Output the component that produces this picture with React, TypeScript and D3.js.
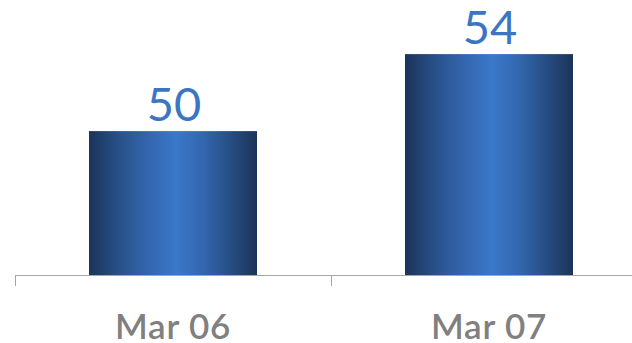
import React from "react";
import * as d3 from "d3";

const categories: string[] = ["Mar 06", "Mar 07"];
const values: number[] = [50, 54];

const W = 632;
const H = 343;

export default function App() {
  const x = d3
    .scaleBand<string>()
    .domain(categories)
    .range([15, 647])
    .paddingInner(0.4684)
    .paddingOuter(0.2342);
  const y = d3.scaleLinear().domain([42.5, 56]).range([275.5, 15.6]);
  const baseY = 275.5;
  const step = x.step();
  const tickXs = categories.map((c) => (x(c) as number) - step * 0.2342);

  return (
    <svg
      width={W}
      height={H}
      style={{ position: "absolute", left: 0, top: 0, display: "block" }}
      fontFamily="Lato, 'Open Sans', sans-serif"
    >
      <defs>
        <linearGradient id="barGrad" x1="0" x2="1" y1="0" y2="0">
          <stop offset="0%" stopColor="#1b3459" />
          <stop offset="20%" stopColor="#2a548f" />
          <stop offset="38%" stopColor="#3569b3" />
          <stop offset="52%" stopColor="#3a78c9" />
          <stop offset="68%" stopColor="#3367ae" />
          <stop offset="100%" stopColor="#1b3459" />
        </linearGradient>
      </defs>
      {categories.map((c, i) => {
        const bx = x(c) as number;
        const by = y(values[i]);
        return (
          <g key={c}>
            <rect
              x={bx}
              y={by}
              width={x.bandwidth()}
              height={baseY - by}
              fill="url(#barGrad)"
            />
            <text
              x={bx + x.bandwidth() / 2 + 1}
              y={by - 10}
              textAnchor="middle"
              fontSize={47}
              fill="#3a76c4"
            >
              {values[i]}
            </text>
            <text
              x={bx + x.bandwidth() / 2}
              y={339}
              textAnchor="middle"
              fontSize={35}
              fontWeight={600}
              letterSpacing={0.8}
              fill="#808080"
            >
              {c}
            </text>
          </g>
        );
      })}
      <line x1={15} x2={W} y1={baseY} y2={baseY} stroke="#a6a6a6" strokeWidth={1} />
      {tickXs.map((tx, i) => (
        <line
          key={i}
          x1={Math.round(tx) + 0.5}
          x2={Math.round(tx) + 0.5}
          y1={baseY}
          y2={286}
          stroke="#a6a6a6"
          strokeWidth={1}
        />
      ))}
    </svg>
  );
}
